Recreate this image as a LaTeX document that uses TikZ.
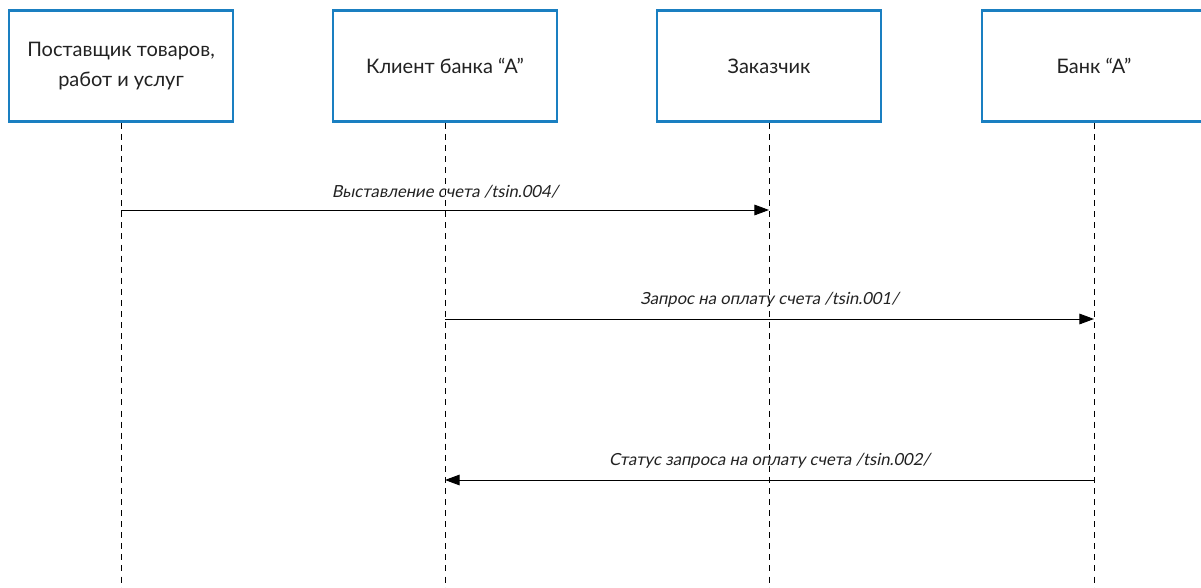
\documentclass[tikz,border=0pt]{standalone}
\usepackage{fontspec}
\setmainfont{Lato}
\newfontfamily\slantfont[FakeSlant=0.2]{Lato}
\usepackage{tikz}
\usetikzlibrary{arrows.meta}

\definecolor{boxblue}{HTML}{1A7FC1}
\definecolor{txtgray}{HTML}{222222}

\tikzset{
  actor/.style={draw=boxblue, line width=2.2pt, fill=white, minimum width=168pt, minimum height=83pt,
    align=center, text=txtgray, font={\fontsize{15}{23}\selectfont}},
  lifeline/.style={dash pattern=on 4.5pt off 3.8pt, line width=0.7pt},
  msg/.style={-{Triangle[length=11pt,width=8pt]}, line width=0.7pt},
  msglabel/.style={text=txtgray, font={\slantfont\fontsize{12.5}{15}\selectfont}}
}

\begin{document}
\begin{tikzpicture}[x=0.75pt,y=-0.75pt]

  \useasboundingbox (0,0) rectangle (1201,588);
  \clip (0,0) rectangle (1201,588);

  \node [actor] (sup) at (121,66) {Поставщик товаров,\\работ и услуг};
  \node [actor] (cli) at (445,66) {Клиент банка “А”};
  \node [actor] (cus) at (769,66) {Заказчик};
  \node [actor] (bnk) at (1094,66) {Банк “А”};

  \coordinate (supend) at (121,588);
  \coordinate (cliend) at (445,588);
  \coordinate (cusend) at (769,588);
  \coordinate (bnkend) at (1094,588);

  \draw [lifeline] (sup) -- (supend);
  \draw [lifeline] (cli) -- (cliend);
  \draw [lifeline] (cus) -- (cusend);
  \draw [lifeline] (bnk) -- (bnkend);

  \coordinate (m1a) at (121,210);
  \coordinate (m1b) at (769,210);
  \coordinate (m2a) at (445,319);
  \coordinate (m2b) at (1094,319);
  \coordinate (m3a) at (1094,480);
  \coordinate (m3b) at (445,480);

  \draw [msg] (m1a) -- node [msglabel, above=5pt] (l1) {Выставление счета /tsin.004/} (m1b);
  \draw [msg] (m2a) -- node [msglabel, above=5pt] (l2) {Запрос на оплату счета /tsin.001/} (m2b);
  \draw [msg] (m3a) -- node [msglabel, above=5pt] (l3) {Статус запроса на оплату счета /tsin.002/} (m3b);

\end{tikzpicture}
\end{document}
